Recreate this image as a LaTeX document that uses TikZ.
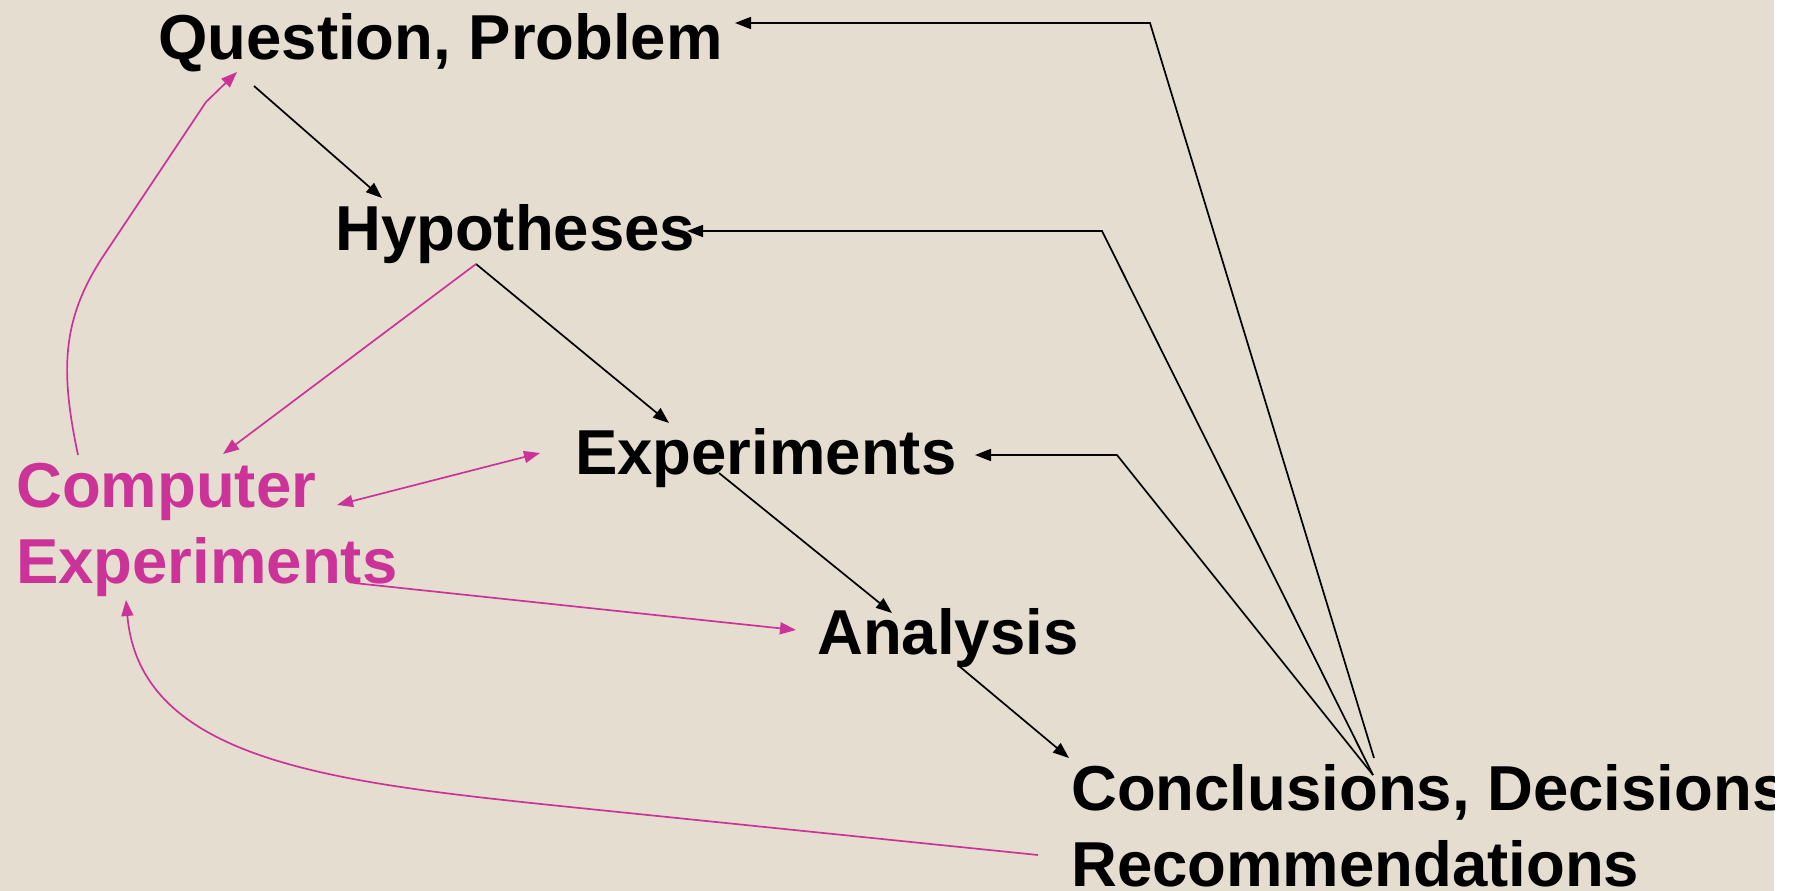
\documentclass[tikz,border=0pt]{standalone}
\usepackage{fontspec}
\setmainfont{Liberation Sans}
\usetikzlibrary{arrows.meta}
\definecolor{bg}{RGB}{229,221,208}
\definecolor{mag}{RGB}{204,51,153}
\begin{document}
\begin{tikzpicture}[x=1pt,y=-1pt,
  lbl/.style={anchor=base west, inner sep=0pt, font=\fontsize{63.5}{76}\selectfont\bfseries},
  blk/.style={lbl, text=black},
  pnk/.style={lbl, text=mag},
  conn/.style={line width=1.7pt, -{Triangle[length=16pt,width=12pt]}},
  bconn/.style={conn, draw=black},
  pconn/.style={conn, draw=mag}]
\fill[white] (0,0) rectangle (1800,891);
\useasboundingbox (0,0) rectangle (1800,891);
\begin{scope}
\clip (0,0) rectangle (1774,891);
\fill[bg] (0,0) rectangle (1774,891);
% labels
\node[blk] (Q) at (158,60) {Question, Problem};
\node[blk] (H) at (335,250) {Hypotheses};
\node[blk] (E) at (575,474) {Experiments};
\node[pnk] (C1) at (16,507) {Computer};
\node[pnk] (C2) at (16,583) {Experiments};
\node[blk] (A) at (817,654) {Analysis};
\node[blk] (D1) at (1071,810) {Conclusions, Decisions};
\node[blk] (D2) at (1071,886) {Recommendations};
% connector end points
\coordinate (qout) at (254,86);
\coordinate (hin) at (382,198);
\coordinate (hout) at (476,264);
\coordinate (ein) at (669,423);
\coordinate (eout) at (719,473);
\coordinate (ain) at (892,613);
\coordinate (aout) at (959,666);
\coordinate (din) at (1069,758);
\coordinate (dtop) at (1374,758);
\coordinate (dmid) at (1373,775);
\coordinate (k1) at (1150,23);
\coordinate (qin) at (735,23);
\coordinate (k2) at (1102,231);
\coordinate (hin2) at (687,231);
\coordinate (k3) at (1117,455);
\coordinate (ein2) at (975,455);
\coordinate (cin) at (223,454);
\coordinate (cr) at (337,505);
\coordinate (el) at (540,453);
\coordinate (cout) at (354,583);
\coordinate (ain2) at (796,630);
\coordinate (ctop) at (78,455);
\coordinate (qin2) at (237,72);
\coordinate (rout) at (1038,855);
\coordinate (cin2) at (126,600);
% black flow
\draw[bconn] (qout) -- (hin);
\draw[bconn] (hout) -- (ein);
\draw[bconn] (eout) -- (ain);
\draw[bconn] (aout) -- (din);
% feedback lines
\draw[bconn] (dtop) -- (k1) -- (qin);
\draw[bconn] (dmid) -- (k2) -- (hin2);
\draw[bconn] (dmid) -- (k3) -- (ein2);
% magenta
\draw[pconn] (hout) -- (cin);
\draw[pconn, {Triangle[length=16pt,width=12pt]}-{Triangle[length=16pt,width=12pt]}] (cr) -- (el);
\draw[pconn] (cout) -- (ain2);
\draw[pconn] (ctop) .. controls (60,370) and (62,320) .. (102,258) -- (206,102) -- (qin2);
\draw[pconn] (rout) -- (560,806) .. controls (330,782) and (140,760) .. (cin2);
\end{scope}
\end{tikzpicture}
\end{document}
